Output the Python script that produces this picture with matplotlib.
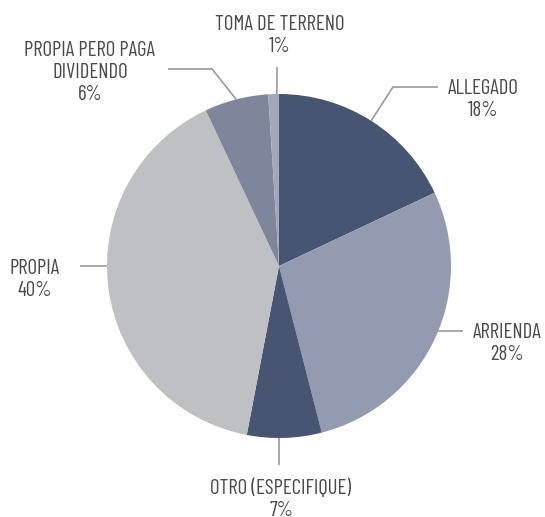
import matplotlib
matplotlib.use("Agg")
import matplotlib.pyplot as plt
import numpy as np

plt.rcParams['font.family'] = ['Barlow Condensed', 'Roboto Condensed', 'DejaVu Sans']

categories = ["ALLEGADO", "ARRIENDA", "OTRO (ESPECIFIQUE)", "PROPIA",
              "PROPIA PERO PAGA\nDIVIDENDO", "TOMA DE TERRENO"]
values = [18, 28, 7, 40, 6, 1]
colors = ["#475573", "#949bb0", "#475573", "#bfc0c4", "#7f869c", "#a3a8b8"]

W, H = 545, 517
fig = plt.figure(figsize=(W / 100, H / 100), dpi=100)
ax = fig.add_axes([0, 0, 1, 1])

def P(x, y):
    """pixel (top-left origin) -> data coords (y up)"""
    return x, H - y

cx, cy = P(279, 266)
R = 172
wedges, _ = ax.pie(values, colors=colors, startangle=90, counterclock=False,
                   center=(cx, cy), radius=R, wedgeprops=dict(linewidth=0))
ax.set_xlim(0, W)
ax.set_ylim(0, H)
ax.set_aspect('equal')
ax.axis('off')

# leader layout: anchor angle on rim (deg, None = wedge middle),
# elbow point, end point (pixels), text centre (pixels)
layout = [
    (None, (393, 87), (438, 87), (483, 100)),
    (-22.2, (463, 331), (463, 331), (507, 344)),
    (-90.0, (279, 465), (279, 465), (281, 499)),
    (180.0, (80, 266), (80, 266), (35, 279)),
    (None, (212, 69), (168, 69), (90, 72)),
    (90.7, (277, 67), (277, 67), (280, 35)),
]
text_color = "#4a4a4a"
line_color = "#9a9a9a"
for w, v, cat, (ang, elbow, end, tc) in zip(wedges, values, categories, layout):
    a = (w.theta1 + w.theta2) / 2 if ang is None else ang
    a = np.deg2rad(a)
    ex, ey = cx + R * np.cos(a), cy + R * np.sin(a)
    e1 = P(*elbow)
    e2 = P(*end)
    ax.plot([ex, e1[0], e2[0]], [ey, e1[1], e2[1]], color=line_color, lw=1.2,
            solid_capstyle='butt')
    ax.text(*P(*tc), f"{cat}\n{v}%", ha='center', va='center', color=text_color,
            fontsize=15, linespacing=1.2)

fig.savefig("out.png", dpi=100, facecolor='white')
